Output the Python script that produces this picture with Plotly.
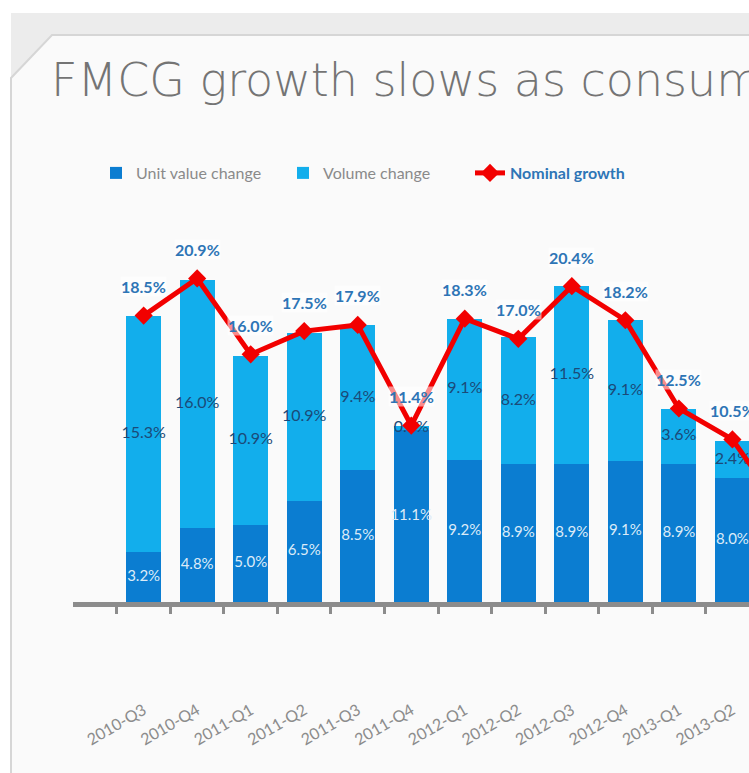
import plotly.graph_objects as go

# ---------------- data ----------------
categories = ["2010-Q3", "2010-Q4", "2011-Q1", "2011-Q2", "2011-Q3", "2011-Q4",
              "2012-Q1", "2012-Q2", "2012-Q3", "2012-Q4", "2013-Q1", "2013-Q2", "2013-Q3"]
unit_value = [3.2, 4.8, 5.0, 6.5, 8.5, 11.1, 9.2, 8.9, 8.9, 9.1, 8.9, 8.0, None]
volume = [15.3, 16.0, 10.9, 10.9, 9.4, 0.3, 9.1, 8.2, 11.5, 9.1, 3.6, 2.4, None]
nominal = [18.5, 20.9, 16.0, 17.5, 17.9, 11.4, 18.3, 17.0, 20.4, 18.2, 12.5, 10.5, 5.6]

# ---------------- layout geometry ----------------
W, H = 749, 773
ML, MR, MT, MB = 73, 0, 215, 171
PW, PH = W - ML - MR, H - MT - MB


def px(x):
    return (x - ML) / PW


def py(y):
    return (H - MB - y) / PH


FONT = "Lato, 'Open Sans', sans-serif"
DARK = "#0B7DD1"
LIGHT = "#12AEEC"
RED = "#F20000"
LABEL_BLUE = "#2E75B6"

fig = go.Figure()

fig.add_trace(go.Bar(
    x=categories, y=unit_value, name="Unit value change",
    marker=dict(color=DARK, line=dict(width=0)),
))
fig.add_trace(go.Bar(
    x=categories, y=volume, name="Volume change",
    marker=dict(color=LIGHT, line=dict(width=0)),
))

# segment labels
unit_cats = [c for c, u in zip(categories, unit_value) if u is not None]
unit_vals = [u for u in unit_value if u is not None]
vol_vals = [v for v in volume if v is not None]

fig.add_trace(go.Scatter(
    x=unit_cats, y=[u / 2 for u in unit_vals], mode="text",
    text=[f"{u:.1f}%" for u in unit_vals],
    textfont=dict(family=FONT, size=15, color="#DCEBF8"),
    showlegend=False, hoverinfo="skip",
))
fig.add_trace(go.Scatter(
    x=unit_cats, y=[u + v / 2 for u, v in zip(unit_vals, vol_vals)], mode="text",
    text=[f"{v:.1f}%" for v in vol_vals],
    textfont=dict(family=FONT, size=16, color="#1B4A78"),
    showlegend=False, hoverinfo="skip",
))

fig.add_trace(go.Scatter(
    x=categories, y=nominal, mode="lines+markers",
    name="<b><span style='color:%s'>Nominal growth</span></b>" % LABEL_BLUE,
    line=dict(color=RED, width=5),
    marker=dict(symbol="diamond", size=14, color=RED),
))

annotations = []
for c, v in zip(categories[:12], nominal[:12]):
    annotations.append(dict(
        x=c, y=v, xref="x", yref="y", yshift=29, showarrow=False,
        text=f"<b>{v:.1f}%</b>", bgcolor="rgba(255,255,255,0.55)", borderpad=0,
        font=dict(family=FONT, size=16, color=LABEL_BLUE),
    ))

annotations.append(dict(
    x=px(49), y=py(80), xref="paper", yref="paper", xanchor="left", yanchor="middle",
    showarrow=False, text="FMCG growth slows as consum",
    font=dict(family="'DejaVu Sans', sans-serif", size=46, color="#747474", weight=200),
))

shapes = [
    dict(type="rect", xref="paper", yref="paper", x0=px(11), x1=px(W + 5),
         y0=py(13), y1=py(H + 5), fillcolor="#ECECEC", line=dict(width=0), layer="below"),
    dict(type="path", xref="paper", yref="paper",
         path=f"M {px(52)} {py(35)} L {px(W + 5)} {py(35)} L {px(W + 5)} {py(H + 5)} "
              f"L {px(11)} {py(H + 5)} L {px(11)} {py(78)} Z",
         fillcolor="#FAFAFA", line=dict(color="#D6D6D6", width=2), layer="below"),
]

fig.update_layout(
    width=W, height=H,
    margin=dict(l=ML, r=MR, t=MT, b=MB, pad=0),
    paper_bgcolor="white", plot_bgcolor="rgba(0,0,0,0)",
    barmode="stack", bargap=0.35,
    font=dict(family=FONT, color="#7F7F7F"),
    showlegend=True,
    legend=dict(
        orientation="h", x=px(96), y=py(173), xanchor="left", yanchor="middle",
        traceorder="normal", font=dict(family=FONT, size=16, color="#8A8A8A"),
        bgcolor="rgba(0,0,0,0)", entrywidth=142, entrywidthmode="pixels",
        itemclick=False, itemdoubleclick=False,
    ),
    xaxis=dict(
        type="category", range=[-1.32, 11.31],
        showline=True, linecolor="#8C8C8C", linewidth=5,
        ticks="outside", tickson="boundaries", ticklen=7, tickwidth=3, tickcolor="#8C8C8C",
        tickangle=-30, tickfont=dict(family=FONT, size=16, color="#8C8C8C"),
        ticklabelstandoff=88, showgrid=False, zeroline=False,
    ),
    yaxis=dict(range=[0, 25], visible=False, showgrid=False, zeroline=False),
    annotations=annotations, shapes=shapes,
)

fig.write_html(
    "out.html",
    config={"displayModeBar": False},
    post_script="document.body.style.margin='0px';document.body.style.overflow='hidden';",
)
